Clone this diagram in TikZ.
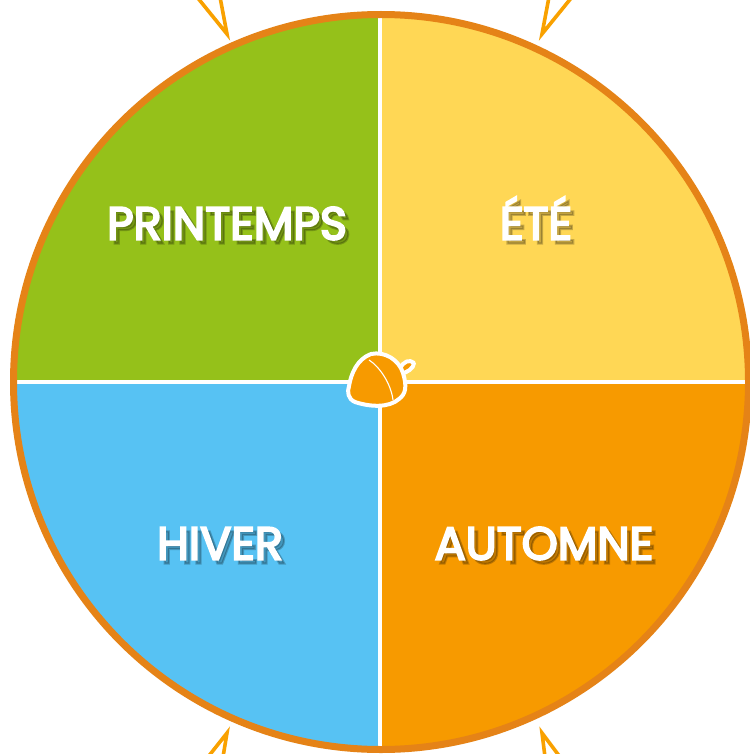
\documentclass[tikz,border=0pt]{standalone}
\usepackage{fontspec}
\setmainfont{Poppins}
\newfontfamily\seasonfont{Poppins}[FakeBold=4.5]
\definecolor{ringc}{HTML}{E58317}
\definecolor{springc}{HTML}{95C11A}
\definecolor{summerc}{HTML}{FFD755}
\definecolor{winterc}{HTML}{57C2F3}
\definecolor{autumnc}{HTML}{F79A00}
\definecolor{rayc}{HTML}{F9A100}
\tikzset{
  x=1pt,y=-1pt,
  raystyle/.style={draw=rayc,line width=3.6pt,line join=miter,miter limit=12},
  divider/.style={draw=white,line width=3.4pt},
  season/.style={text=white,font=\seasonfont\fontsize{46}{46}\selectfont,inner sep=0pt,anchor=base},
  seasonshadow/.style={season,text=black,opacity=.22},
  acornfill/.style={fill=autumnc,draw=white,line width=4pt,line join=round}
}
\begin{document}
\begin{tikzpicture}
\useasboundingbox (0,0) rectangle (749,754);
\fill[white] (0,0) rectangle (749,754);
% rays
\draw[raystyle] (197,-3) -- (227,34) -- (220,-3);
\draw[raystyle] (572,-3) -- (542,34) -- (549,-3);
\draw[raystyle] (208,757) -- (227,733) -- (223,757);
\draw[raystyle] (560,757) -- (542,733) -- (545,757);
\coordinate (c) at (381,382);
\begin{scope}
\clip (c) circle (367);
\fill[springc] (0,0) rectangle (380,382);
\fill[summerc] (380,0) rectangle (760,382);
\fill[winterc] (0,382) rectangle (380,760);
\fill[autumnc] (380,382) rectangle (760,760);
\draw[divider] (380,0) -- (380,760);
\draw[divider] (0,382) -- (760,382);
\end{scope}
\draw[draw=ringc,line width=7pt] (c) circle (367.5);
% labels
\node[seasonshadow] at (231,243.5) {PRINTEMPS};
\node[season] (spring) at (227,239.5) {PRINTEMPS};
\node[seasonshadow] at (540,243.5) {ÉTÉ};
\node[season] (summer) at (536,239.5) {ÉTÉ};
\node[seasonshadow] at (224,563.5) {HIVER};
\node[season] (winter) at (220,559.5) {HIVER};
\node[seasonshadow] at (548,563.5) {AUTOMNE};
\node[season] (autumn) at (544,559.5) {AUTOMNE};
% acorn
\draw[acornfill] (400,369) .. controls (403,361) and (410,359) .. (414,363) .. controls (414,368) and (407,373) .. (400,374) -- cycle;
\draw[acornfill] (371,354) .. controls (385,351) and (399,360) .. (403,373)
  .. controls (407,386) and (406,394) .. (399,399)
  .. controls (389,408) and (370,407) .. (355,402)
  .. controls (348,399) and (347,392) .. (349,386)
  .. controls (351,374) and (357,359) .. (371,354) -- cycle;
\draw[white,line width=1.1pt] (369,360) .. controls (380,367) and (391,384) .. (393,400);
\end{tikzpicture}
\end{document}
